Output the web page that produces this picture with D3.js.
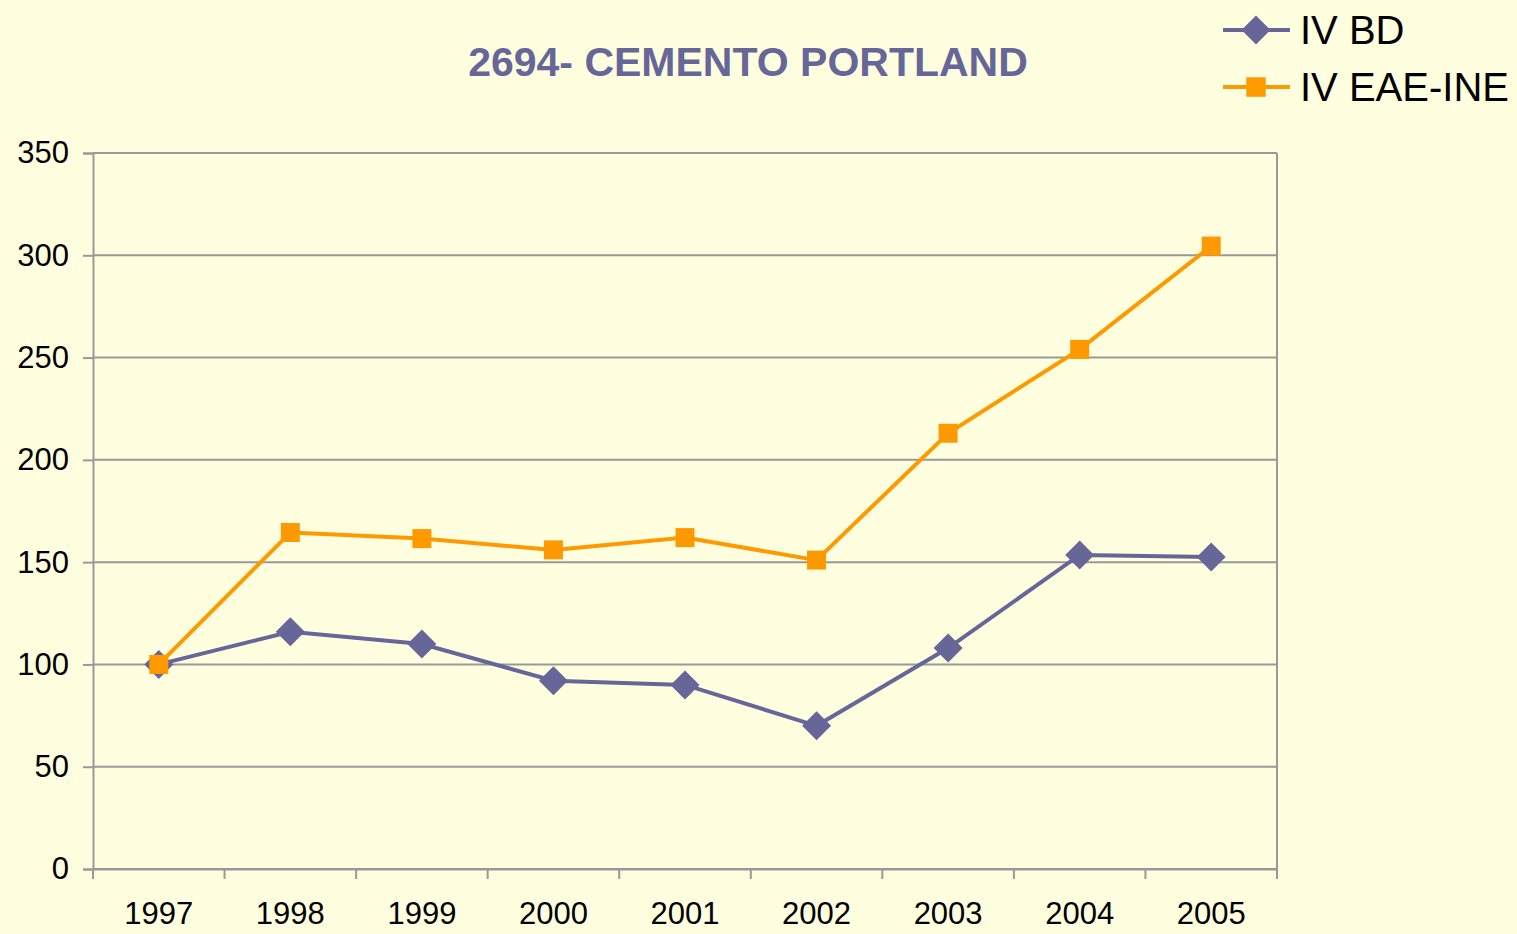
<!DOCTYPE html>
<html>
<head>
<meta charset="utf-8">
<script src="https://cdn.jsdelivr.net/npm/d3@7"></script>
<style>
  body { margin: 0; background: #FFFFE0; }
  svg { display: block; font-family: "Liberation Sans", Arial, sans-serif; }
</style>
</head>
<body>
<div id="chart"></div>
<script>
var years = ["1997", "1998", "1999", "2000", "2001", "2002", "2003", "2004", "2005"];
var ivBD = [100, 116, 110, 92, 90, 70, 108, 153.5, 152.5];
var ivEAE = [100, 164.5, 161.5, 156, 162, 151, 213, 254, 304.5];
var yTicks = [0, 50, 100, 150, 200, 250, 300, 350];

var margin = { top: 153, left: 93, right: 240, bottom: 65 },
  totalW = 1517, totalH = 934,
  width = totalW - margin.left - margin.right,
  height = totalH - margin.top - margin.bottom;

var svg = d3.select("#chart")
  .append("svg")
  .attr("width", totalW)
  .attr("height", totalH);

svg.append("rect").attr("width", totalW).attr("height", totalH).attr("fill", "#FFFFE0");

var g = svg.append("g")
  .attr("transform", "translate(" + margin.left + "," + margin.top + ")");

var xBand = d3.scaleBand().domain(years).range([0, width]);
var yScale = d3.scaleLinear().domain([0, 350]).range([height, 0]);

// gridlines
g.selectAll(".grid")
  .data(yTicks)
  .enter()
  .append("line")
  .attr("x1", 0).attr("x2", width)
  .attr("y1", function(d) { return yScale(d) })
  .attr("y2", function(d) { return yScale(d) })
  .attr("stroke", "#999999")
  .attr("stroke-width", 2);

// right border
g.append("line")
  .attr("x1", width).attr("x2", width)
  .attr("y1", 0).attr("y2", height)
  .attr("stroke", "#999999").attr("stroke-width", 2);

// y axis
var yAxis = d3.axisLeft(yScale).tickValues(yTicks).tickSize(10).tickPadding(14);
var ya = g.append("g").attr("class", "axis y-axis").call(yAxis);
ya.select(".domain").attr("stroke", "#999999").attr("stroke-width", 2);
ya.selectAll(".tick line").attr("stroke", "#999999").attr("stroke-width", 2);
ya.selectAll(".tick text").attr("font-size", 31).attr("fill", "#000").attr("font-family", "Liberation Sans, Arial, sans-serif");

// x axis: ticks at band boundaries
var xAxis = d3.axisBottom(xBand).tickSize(0).tickPadding(33);
var xa = g.append("g").attr("class", "axis x-axis")
  .attr("transform", "translate(0," + height + ")")
  .call(xAxis);
xa.select(".domain").attr("stroke", "#999999").attr("stroke-width", 2);
xa.selectAll(".tick text").attr("font-size", 31).attr("fill", "#000").attr("font-family", "Liberation Sans, Arial, sans-serif");

var bounds = years.map(function(d) { return xBand(d) }).concat([width]);
xa.selectAll(".xtick")
  .data(bounds)
  .enter()
  .append("line")
  .attr("x1", function(d) { return d }).attr("x2", function(d) { return d })
  .attr("y1", 0).attr("y2", 10)
  .attr("stroke", "#999999").attr("stroke-width", 2);

function cx(i) { return xBand(years[i]) + xBand.bandwidth() / 2 }

var line = d3.line()
  .x(function(d, i) { return cx(i) })
  .y(function(d) { return yScale(d) });

// IV BD
g.append("path").datum(ivBD).attr("d", line)
  .attr("fill", "none").attr("stroke", "#666699").attr("stroke-width", 4);
g.selectAll(".bd-pt").data(ivBD).enter()
  .append("path")
  .attr("class", "bd-pt")
  .attr("d", d3.symbol().type(d3.symbolSquare).size(420))
  .attr("transform", function(d, i) { return "translate(" + cx(i) + "," + yScale(d) + ") rotate(45)" })
  .attr("fill", "#666699");

// IV EAE-INE
g.append("path").datum(ivEAE).attr("d", line)
  .attr("fill", "none").attr("stroke", "#FF9900").attr("stroke-width", 4);
g.selectAll(".eae-pt").data(ivEAE).enter()
  .append("rect")
  .attr("class", "eae-pt")
  .attr("x", function(d, i) { return cx(i) - 9.5 })
  .attr("y", function(d) { return yScale(d) - 9.5 })
  .attr("width", 19).attr("height", 19)
  .attr("fill", "#FF9900");

// title
svg.append("text")
  .attr("x", 748).attr("y", 76)
  .attr("text-anchor", "middle")
  .attr("font-size", 41).attr("font-weight", "bold")
  .attr("fill", "#666699")
  .text("2694- CEMENTO PORTLAND");

// legend
var legend = [
  { name: "IV BD", color: "#666699", shape: "diamond" },
  { name: "IV EAE-INE", color: "#FF9900", shape: "square" }
];
var lg = svg.selectAll(".legend").data(legend).enter()
  .append("g")
  .attr("transform", function(d, i) { return "translate(1223," + (30 + i * 57) + ")" });
lg.append("line").attr("x1", 0).attr("x2", 67).attr("y1", 0).attr("y2", 0)
  .attr("stroke", function(d) { return d.color }).attr("stroke-width", 4);
lg.append("path")
  .attr("d", function(d) {
    return d3.symbol().type(d3.symbolSquare).size(d.shape == "diamond" ? 420 : 380)()
  })
  .attr("transform", function(d) { return "translate(33,0)" + (d.shape == "diamond" ? " rotate(45)" : "") })
  .attr("fill", function(d) { return d.color });
lg.append("text").attr("x", 77).attr("y", 14)
  .attr("font-size", 40).attr("fill", "#000")
  .text(function(d) { return d.name });
</script>
</body>
</html>
